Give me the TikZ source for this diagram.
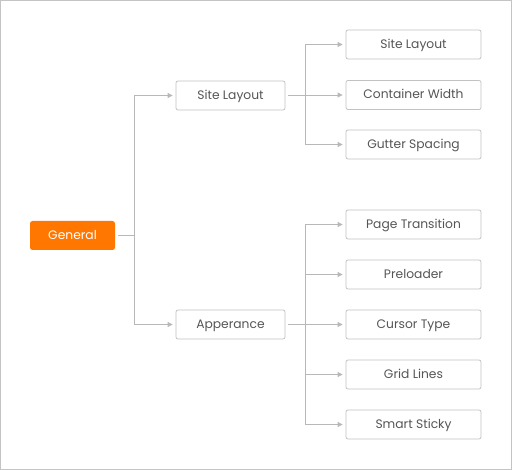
\documentclass[tikz,border=0pt]{standalone}
\usepackage{fontspec}
\setmainfont{Poppins}
\usetikzlibrary{arrows.meta}
\definecolor{frameC}{HTML}{C4C4C4}
\definecolor{lineC}{HTML}{B8B8B8}
\definecolor{boxC}{HTML}{C2C2C2}
\definecolor{txtC}{HTML}{555555}
\definecolor{orangeC}{HTML}{FF7700}
\tikzset{
  x=1pt, y=-1pt,
  leaf/.style={draw=boxC, line width=0.8pt, rounded corners=2pt, minimum width=135pt, minimum height=29pt, inner sep=0pt, text height=8.7pt, text depth=0.7pt, text=txtC, font=\fontsize{12.3}{14}\selectfont},
  mid/.style={leaf, minimum width=109pt},
  root/.style={fill=orangeC, rounded corners=2.5pt, minimum width=85pt, minimum height=29pt, inner sep=0pt, text height=8.7pt, text depth=0.7pt, text=white, font=\fontsize{12.3}{14}\selectfont},
  conn/.style={draw=lineC, line width=0.8pt},
  arr/.style={conn, -{Triangle[length=5pt,width=5pt]}, shorten >=3pt},
}
\begin{document}
\begin{tikzpicture}
\useasboundingbox (0,0) rectangle (512,470);
\draw[frameC, line width=1pt] (0.5,0.5) rectangle (511.5,469.5);
\node[root] (gen) at (72.5,235.5) {General};
\node[mid] (sl) at (230.5,95.5) {Site Layout};
\node[mid] (ap) at (230.5,324.5) {Apperance};
\node[leaf] (l1) at (413.5,44.5) {Site Layout};
\node[leaf] (l2) at (413.5,95) {Container Width};
\node[leaf] (l3) at (413.5,144.5) {Gutter Spacing};
\node[leaf] (r1) at (413.5,224.5) {Page Transition};
\node[leaf] (r2) at (413.5,274.5) {Preloader};
\node[leaf] (r3) at (413.5,324.5) {Cursor Type};
\node[leaf] (r4) at (413.5,374.5) {Grid Lines};
\node[leaf] (r5) at (413.5,424.5) {Smart Sticky};
\coordinate (t0) at (134.5,235.5);
\coordinate (t1) at (305,95.5);
\coordinate (t2) at (305,324.5);
\draw[conn] ([xshift=3pt]gen.east) -- (t0);
\draw[arr] (t0) |- (sl.west);
\draw[arr] (t0) |- (ap.west);
\draw[conn] ([xshift=3pt]sl.east) -- (t1);
\draw[arr] (t1) |- (l1.west);
\draw[arr] (t1) |- (l2.west);
\draw[arr] (t1) |- (l3.west);
\draw[conn] ([xshift=3pt]ap.east) -- (t2);
\draw[arr] (t2) |- (r1.west);
\draw[arr] (t2) |- (r2.west);
\draw[arr] (t2) |- (r3.west);
\draw[arr] (t2) |- (r4.west);
\draw[arr] (t2) |- (r5.west);
\end{tikzpicture}
\end{document}
